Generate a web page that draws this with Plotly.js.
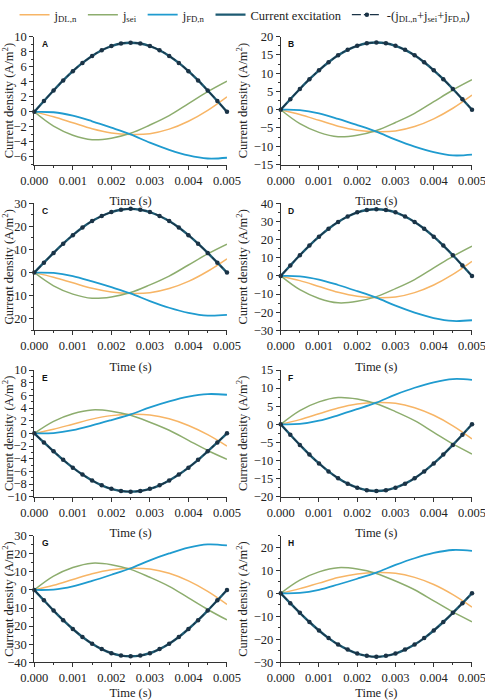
<!DOCTYPE html>
<html>
<head>
<meta charset="utf-8">
<script src="https://cdn.plot.ly/plotly-3.0.1.min.js"></script>
<style>
  html, body { margin: 0; padding: 0; background: #fff; }
  #chart { width: 485px; height: 700px; }
</style>
</head>
<body>
<div id="chart"></div>
<script>
// ---------- data ----------
const t11 = [0, 0.0005, 0.001, 0.0015, 0.002, 0.0025, 0.003, 0.0035, 0.004, 0.0045, 0.005];
const t21 = [0, 0.00025, 0.0005, 0.00075, 0.001, 0.00125, 0.0015, 0.00175, 0.002, 0.00225, 0.0025,
             0.00275, 0.003, 0.00325, 0.0035, 0.00375, 0.004, 0.00425, 0.0045, 0.00475, 0.005];
const panelLabels = ['A', 'B', 'C', 'D', 'E', 'F', 'G', 'H'];
const xTickVals = [0, 0.001, 0.002, 0.003, 0.004, 0.005];

// Panel A
const dlA  = [0, -0.65, -1.45, -2.25, -2.8, -3.0, -2.9, -2.3, -1.25, 0.2, 2.0];
const seiA = [0, -1.9, -3.1, -3.7, -3.5, -2.85, -1.75, -0.5, 1.1, 2.7, 4.1];
const fdA  = [0, -0.05, -0.5, -1.25, -2.1, -3.0, -4.1, -5.05, -5.8, -6.2, -6.1];
const exA  = [0, 1.44, 2.84, 4.18, 5.41, 6.51, 7.44, 8.2, 8.75, 9.09, 9.2, 9.09, 8.75, 8.2, 7.44, 6.51, 5.41, 4.18, 2.84, 1.44, 0];
// Panel B
const dlB  = [0, -1.3, -2.9, -4.5, -5.6, -6.0, -5.8, -4.6, -2.5, 0.4, 4.0];
const seiB = [0, -3.8, -6.2, -7.4, -7.0, -5.7, -3.5, -1.0, 2.2, 5.4, 8.2];
const fdB  = [0, -0.1, -1.0, -2.5, -4.2, -6.0, -8.2, -10.1, -11.6, -12.5, -12.3];
const exB  = [0, 2.88, 5.68, 8.35, 10.8, 13.0, 14.9, 16.4, 17.5, 18.2, 18.4, 18.2, 17.5, 16.4, 14.9, 13.0, 10.8, 8.35, 5.68, 2.88, 0];
// Panel C
const dlC  = [0, -2.0, -4.4, -6.8, -8.4, -9.0, -8.7, -6.9, -3.8, 0.6, 6.0];
const seiC = [0, -5.7, -9.3, -11.1, -10.5, -8.6, -5.3, -1.5, 3.3, 8.1, 12.3];
const fdC  = [0, -0.15, -1.5, -3.8, -6.3, -9.0, -12.3, -15.2, -17.4, -18.6, -18.3];
const exC  = [0, 4.3, 8.5, 12.5, 16.2, 19.5, 22.3, 24.5, 26.2, 27.2, 27.6, 27.2, 26.2, 24.5, 22.3, 19.5, 16.2, 12.5, 8.5, 4.3, 0];
// Panel D
const dlD  = [0, -2.6, -5.8, -9.0, -11.2, -12.0, -11.6, -9.2, -5.0, 0.8, 8.0];
const seiD = [0, -7.6, -12.4, -14.8, -14.0, -11.4, -7.0, -2.0, 4.4, 10.8, 16.4];
const fdD  = [0, -0.2, -2.0, -5.0, -8.4, -12.0, -16.4, -20.2, -23.2, -24.8, -24.4];
const exD  = [0, 5.75, 11.4, 16.7, 21.6, 26.0, 29.7, 32.7, 35.0, 36.3, 36.7, 36.3, 35.0, 32.7, 29.7, 26.0, 21.6, 16.7, 11.4, 5.75, 0];
// Panel E
const dlE  = [0, 0.65, 1.45, 2.25, 2.8, 3.0, 2.9, 2.3, 1.25, -0.2, -2.0];
const seiE = [0, 1.9, 3.1, 3.7, 3.5, 2.85, 1.75, 0.5, -1.1, -2.7, -4.1];
const fdE  = [0, 0.05, 0.5, 1.25, 2.1, 3.0, 4.1, 5.05, 5.8, 6.2, 6.1];
const exE  = [0, -1.44, -2.84, -4.18, -5.41, -6.51, -7.44, -8.2, -8.75, -9.09, -9.2, -9.09, -8.75, -8.2, -7.44, -6.51, -5.41, -4.18, -2.84, -1.44, 0];
// Panel F
const dlF  = [0, 1.3, 2.9, 4.5, 5.6, 6.0, 5.8, 4.6, 2.5, -0.4, -4.0];
const seiF = [0, 3.8, 6.2, 7.4, 7.0, 5.7, 3.5, 1.0, -2.2, -5.4, -8.2];
const fdF  = [0, 0.1, 1.0, 2.5, 4.2, 6.0, 8.2, 10.1, 11.6, 12.5, 12.3];
const exF  = [0, -2.88, -5.68, -8.35, -10.8, -13.0, -14.9, -16.4, -17.5, -18.2, -18.4, -18.2, -17.5, -16.4, -14.9, -13.0, -10.8, -8.35, -5.68, -2.88, 0];
// Panel G
const dlG  = [0, 2.6, 5.8, 9.0, 11.2, 12.0, 11.6, 9.2, 5.0, -0.8, -8.0];
const seiG = [0, 7.6, 12.4, 14.8, 14.0, 11.4, 7.0, 2.0, -4.4, -10.8, -16.6];
const fdG  = [0, 0.2, 2.0, 5.0, 8.4, 12.0, 16.4, 20.2, 23.4, 25.2, 24.6];
const exG  = [0, -5.75, -11.4, -16.7, -21.6, -26.0, -29.7, -32.7, -35.0, -36.3, -36.7, -36.3, -35.0, -32.7, -29.7, -26.0, -21.6, -16.7, -11.4, -5.75, 0];
// Panel H
const dlH  = [0, 2.0, 4.4, 6.8, 8.4, 9.0, 8.7, 6.9, 3.8, -0.6, -6.0];
const seiH = [0, 5.7, 9.3, 11.1, 10.5, 8.6, 5.3, 1.5, -3.3, -8.1, -12.4];
const fdH  = [0, 0.15, 1.5, 3.8, 6.3, 9.0, 12.3, 15.2, 17.5, 18.8, 18.4];
const exH  = [0, -4.3, -8.5, -12.5, -16.2, -19.5, -22.3, -24.5, -26.2, -27.2, -27.6, -27.2, -26.2, -24.5, -22.3, -19.5, -16.2, -12.5, -8.5, -4.3, 0];

const dlAll  = [dlA, dlB, dlC, dlD, dlE, dlF, dlG, dlH];
const seiAll = [seiA, seiB, seiC, seiD, seiE, seiF, seiG, seiH];
const fdAll  = [fdA, fdB, fdC, fdD, fdE, fdF, fdG, fdH];
const exAll  = [exA, exB, exC, exD, exE, exF, exG, exH];

// ---------- styling ----------
const C_DL = '#F7B566', C_SEI = '#8DAD6E', C_FD = '#1F9BCF', C_EX = '#1D5A72', C_SUM = '#1A3346';
const yRanges = [[-7, 10], [-15, 20], [-25, 30], [-30, 40], [-10, 10], [-20, 15], [-40, 30], [-30, 25]];
const yDticks = [2, 5, 10, 10, 2, 5, 10, 10];
const colDomains = [[0.0707, 0.468], [0.5788, 0.9732]];
const rowDomains = [[0.765, 0.9476], [0.528, 0.7096], [0.2904, 0.4714], [0.0539, 0.2347]];

const serif = "'Liberation Serif', 'Times New Roman', serif";
const traces = [];
const layout = {
  width: 485, height: 700,
  margin: {l: 0, r: 0, t: 0, b: 0},
  paper_bgcolor: '#fff', plot_bgcolor: '#fff',
  font: {family: serif, size: 12, color: '#222'},
  showlegend: true,
  legend: {orientation: 'h', x: 0.03, xanchor: 'left', y: 1.0, yanchor: 'top',
           font: {family: serif, size: 12.5, color: '#222'}, bgcolor: 'rgba(0,0,0,0)',
           itemwidth: 30, tracegroupgap: 0},
  annotations: []
};

for (let i = 0; i < 8; i++) {
  const n = i + 1;
  const xa = 'x' + (n === 1 ? '' : n), ya = 'y' + (n === 1 ? '' : n);
  const first = i === 0;
  traces.push({x: t11, y: dlAll[i], xaxis: xa, yaxis: ya, type: 'scatter', mode: 'lines',
    line: {color: C_DL, width: 1.5, shape: 'spline'}, name: 'j<sub>DL,n</sub>', showlegend: first, legendrank: 1});
  traces.push({x: t11, y: seiAll[i], xaxis: xa, yaxis: ya, type: 'scatter', mode: 'lines',
    line: {color: C_SEI, width: 1.5, shape: 'spline'}, name: 'j<sub>sei</sub>', showlegend: first, legendrank: 2});
  traces.push({x: t11, y: fdAll[i], xaxis: xa, yaxis: ya, type: 'scatter', mode: 'lines',
    line: {color: C_FD, width: 1.8, shape: 'spline'}, name: 'j<sub>FD,n</sub>', showlegend: first, legendrank: 3});
  traces.push({x: t21, y: exAll[i], xaxis: xa, yaxis: ya, type: 'scatter', mode: 'lines',
    line: {color: C_EX, width: 2.4, shape: 'spline'}, name: 'Current excitation', showlegend: first, legendrank: 4});
  traces.push({x: t21, y: exAll[i], xaxis: xa, yaxis: ya, type: 'scatter', mode: 'lines+markers', cliponaxis: false,
    line: {color: C_SUM, width: 1.2, dash: 'dashdot', shape: 'spline'},
    marker: {color: C_SUM, size: 4.5, symbol: 'circle'},
    name: '-(j<sub>DL,n</sub>+j<sub>sei</sub>+j<sub>FD,n</sub>)', showlegend: first, legendrank: 5});

  const col = i % 2, row = Math.floor(i / 2);
  const axCommon = {showline: true, linecolor: '#333', linewidth: 1, ticks: 'outside', ticklen: 4,
    tickcolor: '#333', showgrid: false, zeroline: false, mirror: false,
    tickfont: {family: serif, size: 12.5, color: '#222'}};
  layout['xaxis' + (n === 1 ? '' : n)] = Object.assign({}, axCommon, {
    domain: colDomains[col], anchor: ya, range: [0, 0.005],
    tickvals: xTickVals, tickformat: '.3f', ticklabeloverflow: 'allow',
    minor: {dtick: 0.0005, ticks: 'outside', ticklen: 2, tickcolor: '#333', showgrid: false},
    title: {text: 'Time (s)', font: {family: serif, size: 12.5, color: '#222'}, standoff: 9}
  });
  layout['yaxis' + (n === 1 ? '' : n)] = Object.assign({}, axCommon, {
    domain: rowDomains[row], anchor: xa, range: yRanges[i], dtick: yDticks[i], tick0: 0,
    minor: {dtick: yDticks[i] / 2, ticks: 'outside', ticklen: 2, tickcolor: '#333', showgrid: false},
    title: {text: 'Current density (A/m<sup>2</sup>)', font: {family: serif, size: 12.5, color: '#222'}, standoff: 3}
  });
  layout.annotations.push({text: '<b>' + panelLabels[i] + '</b>', xref: xa + ' domain', yref: ya + ' domain',
    x: 0.03, y: 0.995, xanchor: 'left', yanchor: 'top', showarrow: false,
    font: {family: "'Liberation Sans', Arial, sans-serif", size: 8.5, color: '#111'}});
}

Plotly.newPlot('chart', traces, layout, {displayModeBar: false, staticPlot: true});
</script>
</body>
</html>
